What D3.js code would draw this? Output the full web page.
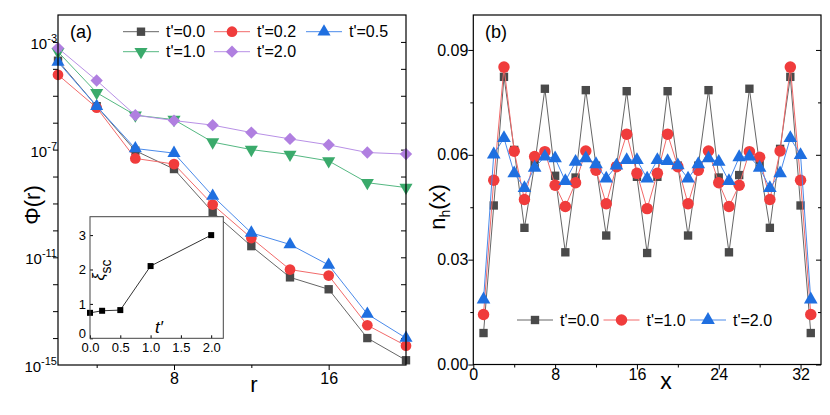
<!DOCTYPE html>
<html><head><meta charset="utf-8">
<script src="https://cdn.jsdelivr.net/npm/d3@7"></script>
<style>body{margin:0;background:#fff} text{font-family:"Liberation Sans",Arial,sans-serif;fill:#000}</style>
</head><body><svg id="c" width="830" height="415"></svg>
<script>
// ---------- Panel (a) data ----------
const rVals = [2,4,6,8,10,12,14,16,18,20];
const phiT00 = [2.0e-4,4.1e-6,9.1e-8,1.9e-8,4.8e-10,2.6e-11,1.8e-12,6.5e-13,1.0e-14,1.5e-15];
const phiT02 = [6.0e-5,3.6e-6,4.7e-8,2.9e-8,9.1e-10,5.2e-11,3.5e-12,2.1e-12,3.0e-14,5.2e-15];
const phiT05 = [1.8e-4,4.1e-6,1.1e-7,7.4e-8,1.9e-9,8.1e-11,3.0e-11,5.2e-12,7.8e-14,1.0e-14];
const phiT10 = [4.3e-4,1.3e-5,1.9e-6,1.3e-6,1.9e-7,1.0e-7,6.6e-8,3.8e-8,5.9e-9,3.9e-9];
const phiT20 = [5.9e-4,3.7e-5,1.9e-6,1.2e-6,8.1e-7,4.3e-7,2.5e-7,1.5e-7,7.8e-8,6.8e-8];
const labelsA = ["t'=0.0","t'=0.2","t'=0.5","t'=1.0","t'=2.0"];
const rTicks = [4,8,12,16];
const rTickLabels = [8,16];
const phiLabelExps = [-3,-7,-11,-15];
// inset
const tpVals = [0,0.2,0.5,1.0,2.0];
const xiVals = [0.74,0.80,0.82,2.10,3.00];
const tpTicks = [0,0.5,1.0,1.5,2.0];
const xiTicks = [0,1,2,3];
// ---------- Panel (b) data ----------
const sites = [1,2,3,4,5,6,7,8,9,10,11,12,13,14,15,16,17,18,19,20,21,22,23,24,25,26,27,28,29,30,31,32,33];
const nhT00 = [0.0090,0.0455,0.0823,0.0614,0.0391,0.0573,0.0789,0.0540,0.0321,0.0535,0.0785,0.0569,0.0369,0.0566,0.0782,0.0537,0.0319,0.0537,0.0782,0.0569,0.0369,0.0569,0.0785,0.0535,0.0321,0.0542,0.0789,0.0571,0.0391,0.0617,0.0823,0.0455,0.0090];
const nhT10 = [0.0143,0.0527,0.0851,0.0610,0.0472,0.0595,0.0609,0.0513,0.0452,0.0520,0.0611,0.0556,0.0460,0.0566,0.0659,0.0547,0.0446,0.0547,0.0659,0.0566,0.0460,0.0556,0.0611,0.0520,0.0452,0.0513,0.0609,0.0593,0.0472,0.0611,0.0851,0.0527,0.0143];
const nhT20 = [0.0186,0.0601,0.0648,0.0547,0.0505,0.0563,0.0595,0.0590,0.0525,0.0580,0.0590,0.0573,0.0532,0.0569,0.0585,0.0585,0.0532,0.0585,0.0582,0.0570,0.0532,0.0573,0.0590,0.0580,0.0525,0.0593,0.0595,0.0563,0.0505,0.0547,0.0648,0.0599,0.0186];
const labelsB = ["t'=0.0","t'=1.0","t'=2.0"];
const xTicksB = [0,4,8,12,16,20,24,28,32];
const yTicksB = [0,0.015,0.03,0.045,0.06,0.075,0.09];

// ---------- styles ----------
const GRAY = {fill:"#4a4a4a", line:"#666666", sym:d3.symbolSquare, size:70, rot:0};
const RED = {fill:"#f03c3c", line:"#f26a6a", sym:d3.symbolCircle, size:90, rot:0};
const BLUE = {fill:"#1f6fe0", line:"#4a8aea", sym:d3.symbolTriangle, size:62, rot:0};
const GREEN = {fill:"#3aaa6b", line:"#55b882", sym:d3.symbolTriangle, size:62, rot:180};
const PURPLE = {fill:"#b07fe0", line:"#b890e6", sym:d3.symbolSquare, size:76, rot:45};

const svg = d3.select("#c");

function drawSeries(g, xs, ys, xs_, ys_, st, sizeMul) {
  const pts = d3.zip(xs, ys);
  g.append("path").datum(pts)
    .attr("d", d3.line().x(d => xs_(d[0])).y(d => ys_(d[1])))
    .attr("fill","none").attr("stroke", st.line).attr("stroke-width", 1);
  g.selectAll(null).data(pts).join("path")
    .attr("d", d3.symbol(st.sym, st.size * (sizeMul||1)))
    .attr("transform", d => `translate(${xs_(d[0])},${ys_(d[1])}) rotate(${st.rot})`)
    .attr("fill", st.fill);
}
function legendItem(g, x0, y, st, label, sizeMul) {
  g.append("line").attr("x1", x0).attr("x2", x0+36).attr("y1", y).attr("y2", y)
    .attr("stroke", st.line).attr("stroke-width", 1);
  g.append("path").attr("d", d3.symbol(st.sym, st.size*(sizeMul||1)))
    .attr("transform", `translate(${x0+18},${y}) rotate(${st.rot})`).attr("fill", st.fill);
  g.append("text").attr("x", x0+43).attr("y", y+5.5).attr("font-size", 16).text(label);
}
function styleAxis(sel, fs) {
  sel.select(".domain").remove();
  sel.selectAll(".tick line").attr("stroke","#000").attr("stroke-width",1);
  sel.selectAll(".tick text").attr("font-size", fs).attr("fill","#000")
     .attr("font-family",'"Liberation Sans",Arial,sans-serif');
}

// ================= Panel (a) =================
const A = {l:58, r:406, t:15, b:365};
const xa = d3.scaleLinear().domain([2,20]).range([A.l, A.r]);
const ya = d3.scaleLog().domain([1e-15,1e-2]).range([A.b, A.t]);
const decades = d3.range(-14,-2).map(e => Math.pow(10,e));
const ga = svg.append("g");

const axB = ga.append("g").attr("transform",`translate(0,${A.b})`)
  .call(d3.axisBottom(xa).tickValues(rTicks).tickSize(5).tickPadding(3)
    .tickFormat(d => rTickLabels.includes(d) ? d : ""));
styleAxis(axB, 16);
axB.selectAll(".tick line").attr("y2", d => rTickLabels.includes(d) ? 5 : 3);
const axL = ga.append("g").attr("transform",`translate(${A.l},0)`)
  .call(d3.axisLeft(ya).tickValues(decades).tickSize(5).tickFormat(""));
styleAxis(axL, 16);
const axR = ga.append("g").attr("transform",`translate(${A.r},0)`)
  .call(d3.axisLeft(ya).tickValues(decades).tickSize(-5).tickFormat(""));
styleAxis(axR, 16);
axR.selectAll(".tick line").attr("x2", -5);
// y labels 10^n
phiLabelExps.forEach(e => {
  const t = ga.append("text").attr("x", A.l-1).attr("y", ya(Math.pow(10,e))+7)
    .attr("text-anchor","end").attr("font-size",15);
  t.append("tspan").text("10");
  t.append("tspan").attr("dy",-7).attr("font-size",11).text(String(e));
});

drawSeries(ga, rVals, phiT00, xa, ya, GRAY);
drawSeries(ga, rVals, phiT02, xa, ya, RED);
drawSeries(ga, rVals, phiT05, xa, ya, BLUE, 1.2);
drawSeries(ga, rVals, phiT10, xa, ya, GREEN, 1.2);
drawSeries(ga, rVals, phiT20, xa, ya, PURPLE);

ga.append("rect").attr("x",A.l).attr("y",A.t).attr("width",A.r-A.l).attr("height",A.b-A.t)
  .attr("fill","none").attr("stroke","#000").attr("stroke-width",1.2);

// legend (a)
legendItem(ga, 123, 31.7, GRAY, labelsA[0]);
legendItem(ga, 214, 31.7, RED, labelsA[1]);
legendItem(ga, 306, 31.7, BLUE, labelsA[2], 1.2);
legendItem(ga, 123, 51.7, GREEN, labelsA[3], 1.2);
legendItem(ga, 214, 51.7, PURPLE, labelsA[4]);

ga.append("text").attr("x",70).attr("y",37.5).attr("font-size",18).text("(a)");
ga.append("text").attr("x",254).attr("y",392).attr("font-size",22).attr("text-anchor","middle").text("r");
ga.append("text").attr("transform","translate(40,205) rotate(-90)").attr("font-size",22)
  .attr("text-anchor","middle").text("Φ(r)");

// inset
const I = {l:90, r:223.3, t:216.7, b:338.3};
const xi = d3.scaleLinear().domain([0,2.2]).range([I.l, I.r]);
const yi = d3.scaleLinear().domain([0,3.535]).range([I.b, I.t]);
const gi = svg.append("g");
gi.append("rect").attr("x",I.l).attr("y",I.t).attr("width",I.r-I.l).attr("height",I.b-I.t).attr("fill","#fff");
const iaxB = gi.append("g").attr("transform",`translate(0,${I.b})`)
  .call(d3.axisBottom(xi).tickValues(tpTicks).tickSize(-3).tickPadding(4).tickFormat(d3.format(".1f")));
styleAxis(iaxB, 13);
const iaxL = gi.append("g").attr("transform",`translate(${I.l},0)`)
  .call(d3.axisLeft(yi).tickValues(xiTicks).tickSize(-3).tickPadding(4).tickFormat(d3.format("d")));
styleAxis(iaxL, 13);
iaxL.selectAll(".tick text").attr("dy", d => d === 0 ? "-0.05em" : "0.32em");
const ipts = d3.zip(tpVals, xiVals);
gi.append("path").datum(ipts).attr("d", d3.line().x(d=>xi(d[0])).y(d=>yi(d[1])))
  .attr("fill","none").attr("stroke","#333").attr("stroke-width",1);
gi.selectAll(null).data(ipts).join("path").attr("d", d3.symbol(d3.symbolSquare, 36))
  .attr("transform", d=>`translate(${xi(d[0])},${yi(d[1])})`).attr("fill","#000");
gi.append("rect").attr("x",I.l).attr("y",I.t).attr("width",I.r-I.l).attr("height",I.b-I.t)
  .attr("fill","none").attr("stroke","#444").attr("stroke-width",1);
const xt = gi.append("text").attr("transform","translate(104,270) rotate(-90)").attr("text-anchor","middle").attr("font-size",16);
xt.append("tspan").attr("font-style","italic").text("ξ");
xt.append("tspan").attr("dy",7).attr("font-size",14).text("sc");
gi.append("text").attr("x",155).attr("y",333).attr("font-size",17).attr("font-style","italic").text("t′");

// ================= Panel (b) =================
const B = {l:473.3, r:821, t:15, b:364.5};
const xb = d3.scaleLinear().domain([0,34]).range([B.l, B.r]);
const yb = d3.scaleLinear().domain([0,0.1]).range([B.b, B.t]);
const gb = svg.append("g");
const bxMaj = [0,8,16,24,32];
const byMaj = [0,0.03,0.06,0.09];
const bB = gb.append("g").attr("transform",`translate(0,${B.b})`)
  .call(d3.axisBottom(xb).tickValues(xTicksB).tickSize(5).tickPadding(-1)
    .tickFormat(d => bxMaj.includes(d) ? d : ""));
styleAxis(bB, 16);
bB.selectAll(".tick line").attr("y2", d => bxMaj.includes(d) ? 5 : 3);
const isMajY = d => byMaj.some(v => Math.abs(v-d) < 1e-9);
const bL = gb.append("g").attr("transform",`translate(${B.l},0)`)
  .call(d3.axisLeft(yb).tickValues(yTicksB).tickSize(5).tickPadding(0)
    .tickFormat(d => isMajY(d) ? d3.format(".2f")(d) : ""));
styleAxis(bL, 16);
bL.selectAll(".tick line").attr("x2", d => isMajY(d) ? -5 : -3);
const bR = gb.append("g").attr("transform",`translate(${B.r},0)`)
  .call(d3.axisLeft(yb).tickValues(yTicksB).tickSize(5).tickFormat(""));
styleAxis(bR, 16);
bR.selectAll(".tick line").attr("x2", d => isMajY(d) ? -5 : -3);

drawSeries(gb, sites, nhT00, xb, yb, GRAY, 1.0);
drawSeries(gb, sites, nhT10, xb, yb, RED, 1.15);
drawSeries(gb, sites, nhT20, xb, yb, BLUE, 1.3);

gb.append("rect").attr("x",B.l).attr("y",B.t).attr("width",B.r-B.l).attr("height",B.b-B.t)
  .attr("fill","none").attr("stroke","#000").attr("stroke-width",1.2);

legendItem(gb, 517, 320, GRAY, labelsB[0], 1.0);
legendItem(gb, 603.5, 320, RED, labelsB[1], 1.15);
legendItem(gb, 690, 320, BLUE, labelsB[2], 1.3);

gb.append("text").attr("x",485).attr("y",38).attr("font-size",18).text("(b)");
gb.append("text").attr("x",666).attr("y",389).attr("font-size",23).attr("text-anchor","middle").text("x");
const nl = gb.append("text").attr("transform","translate(445,207) rotate(-90)").attr("font-size",22).attr("text-anchor","middle");
nl.append("tspan").text("n");
nl.append("tspan").attr("dy",5).attr("font-size",14).text("h");
nl.append("tspan").attr("dy",-5).text("(x)");
</script></body></html>
